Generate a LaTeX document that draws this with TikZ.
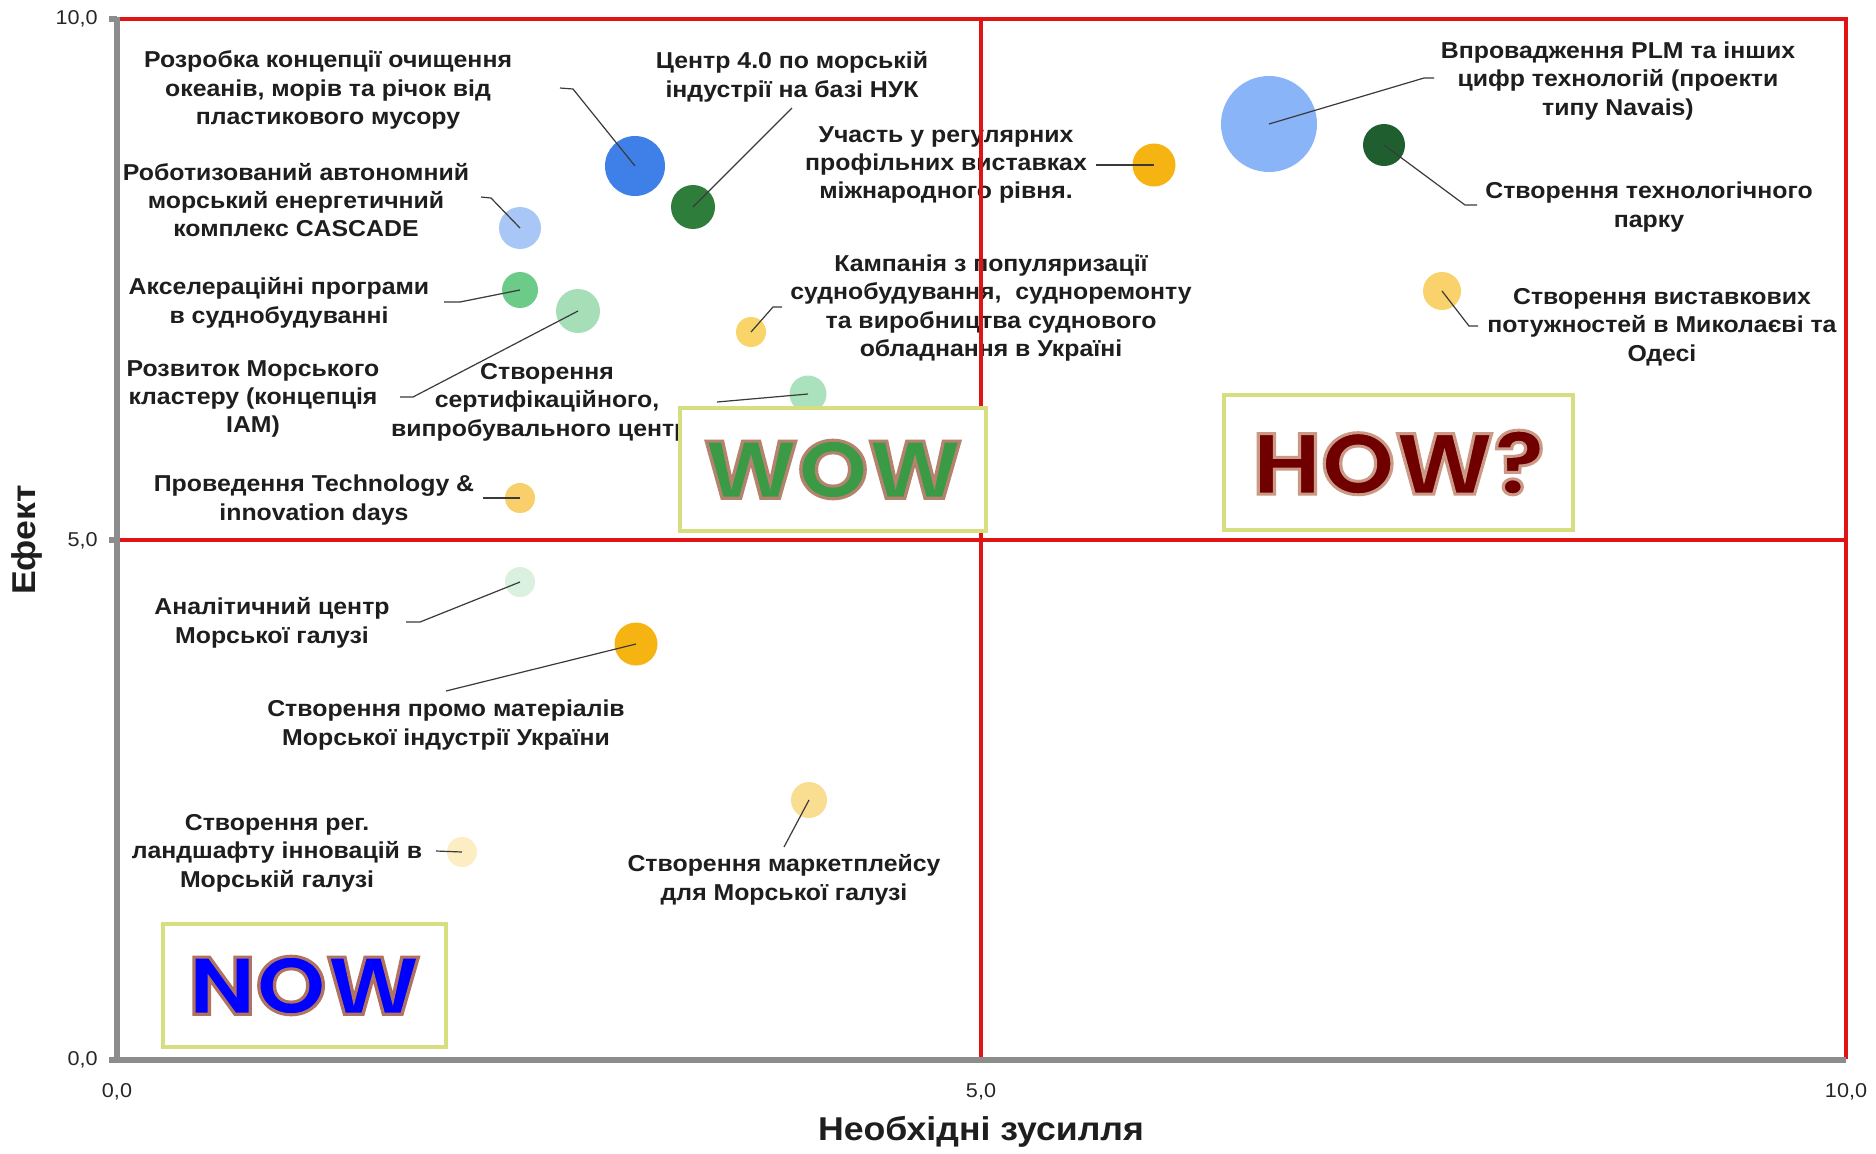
\documentclass[tikz,border=0pt]{standalone}
\usepackage{fontspec}
\usepackage{graphicx}
\setmainfont{Liberation Sans}[FakeStretch=1.08]
\newfontfamily\bigfont{Poppins}
\newcommand\outtext[3]{\special{pdf:literal direct #1 RG #2 w 2 Tr}#3\special{pdf:literal direct 0 Tr}}
\definecolor{quadred}{HTML}{E01414}
\definecolor{axgray}{HTML}{8C8C8C}
\definecolor{boxcol}{HTML}{D6DE80}
\definecolor{leadcol}{HTML}{3A3A3A}
\definecolor{labcol}{HTML}{1E1E1E}
\definecolor{cA}{HTML}{3F80E8}
\definecolor{cB}{HTML}{2E7D3A}
\definecolor{cC}{HTML}{A8C7F7}
\definecolor{cD}{HTML}{6CCB88}
\definecolor{cE}{HTML}{A6DFB7}
\definecolor{cF}{HTML}{F9D468}
\definecolor{cG}{HTML}{A9E2BC}
\definecolor{cH}{HTML}{F8CF6A}
\definecolor{cI}{HTML}{D9F1DE}
\definecolor{cJ}{HTML}{F5B411}
\definecolor{cK}{HTML}{F9DE92}
\definecolor{cL}{HTML}{FCEDC3}
\definecolor{cM}{HTML}{F5B412}
\definecolor{cN}{HTML}{8AB4F8}
\definecolor{cO}{HTML}{1F5E2E}
\definecolor{cP}{HTML}{F9D26C}
\definecolor{wowfill}{HTML}{3A9A46}
\definecolor{howfill}{HTML}{700000}
\definecolor{nowfill}{HTML}{0000FF}
\begin{document}
\begin{tikzpicture}[x=0.5pt,y=-0.5pt,
  lab/.style={align=center, font=\bfseries\fontsize{11.5}{14.2}\selectfont, inner sep=0pt, text=labcol},
  lead/.style={draw=leadcol, line width=0.6pt},
  bub/.style 2 args={circle, inner sep=0pt, minimum size=#1pt, fill=#2, draw=none},
  quad/.style={draw=quadred, line width=2pt},
  axisline/.style={draw=axgray, line width=3pt},
  ticklab/.style={font=\fontsize{10}{12}\selectfont, inner sep=0pt, text=black!85},
  axtitle/.style={font=\bfseries\fontsize{16.5}{19}\selectfont, inner sep=0pt, text=labcol},
  bigbox/.style={draw=boxcol, line width=2pt, fill=white, inner sep=0pt}]
\useasboundingbox (0,0) rectangle (1876,1153);
\fill[white] (0,0) rectangle (1876,1153);

% bubbles
\node[bub={30}{cA}] (b1) at (635,166) {};
\node[bub={22}{cB}] (b2) at (693,207) {};
\node[bub={21}{cC}] (b3) at (520,228) {};
\node[bub={18}{cD}] (b4) at (520,290) {};
\node[bub={22}{cE}] (b5) at (578,311) {};
\node[bub={15}{cF}] (b6) at (751,332) {};
\node[bub={18.5}{cG}] (b7) at (808,394) {};
\node[bub={15}{cH}] (b8) at (520,498) {};
\node[bub={15}{cI}] (b9) at (520,582) {};
\node[bub={21.5}{cJ}] (b10) at (636,644) {};
\node[bub={18}{cK}] (b11) at (809,800) {};
\node[bub={15}{cL}] (b12) at (462,852) {};
\node[bub={21.5}{cM}] (b13) at (1154,165) {};
\node[bub={48}{cN}] (b14) at (1269,124) {};
\node[bub={21}{cO}] (b15) at (1384,145) {};
\node[bub={19}{cP}] (b16) at (1442,291) {};

% leader points
\coordinate (kA1) at (560,88);   \coordinate (kA2) at (573,89);
\coordinate (kB1) at (792,108);
\coordinate (kC1) at (1096,165);
\coordinate (kD1) at (782,307);  \coordinate (kD2) at (773,307);
\coordinate (kE1) at (481,197);  \coordinate (kE2) at (491,198);
\coordinate (kF1) at (444,302);  \coordinate (kF2) at (460,302);
\coordinate (kG1) at (400,397);  \coordinate (kG2) at (413,397);
\coordinate (kH1) at (717,402);
\coordinate (kI1) at (483,498);
\coordinate (kJ1) at (406,622);  \coordinate (kJ2) at (420,622);
\coordinate (kK1) at (446,691);
\coordinate (kL1) at (436,851);
\coordinate (kM1) at (784,847);
\coordinate (kN1) at (1434,78);  \coordinate (kN2) at (1424,78);
\coordinate (kO1) at (1477,205); \coordinate (kO2) at (1465,205);
\coordinate (kP1) at (1478,326); \coordinate (kP2) at (1469,326);

\draw[lead] (kA1) -- (kA2) -- (b1.center);
\draw[lead] (kB1) -- (b2.center);
\draw[lead] (kC1) -- (b13.center);
\draw[lead] (kD1) -- (kD2) -- (b6.center);
\draw[lead] (kE1) -- (kE2) -- (b3.center);
\draw[lead] (kF1) -- (kF2) -- (b4.center);
\draw[lead] (kG1) -- (kG2) -- (b5.center);
\draw[lead] (kH1) -- (b7.center);
\draw[lead] (kI1) -- (b8.center);
\draw[lead] (kJ1) -- (kJ2) -- (b9.center);
\draw[lead] (kK1) -- (b10.center);
\draw[lead] (kL1) -- (b12.center);
\draw[lead] (kM1) -- (b11.center);
\draw[lead] (kN1) -- (kN2) -- (b14.center);
\draw[lead] (kO1) -- (kO2) -- (b15.center);
\draw[lead] (kP1) -- (kP2) -- (b16.center);

% labels
\node[lab] (lA) at (328,90) {Розробка концепції очищення\\океанів, морів та річок від\\пластикового мусору};
\node[lab] (lB) at (792,77) {Центр 4.0 по морській\\індустрії на базі НУК};
\node[lab] (lC) at (946,165) {Участь у регулярних\\профільних виставках\\міжнародного рівня.};
\node[lab] (lD) at (991,308) {Кампанія з популяризації\\суднобудування,\ \ судноремонту\\та виробництва суднового\\обладнання в Україні};
\node[lab] (lE) at (296,200) {Роботизований автономний\\морський енергетичний\\комплекс CASCADE};
\node[lab] (lF) at (279,303) {Акселераційні програми\\в суднобудуванні};
\node[lab] (lG) at (253,399) {Розвиток Морського\\кластеру (концепція\\IAM)};
\node[lab] (lH) at (547,402) {Створення\\сертифікаційного,\\випробувального центру};
\node[lab] (lI) at (314,500) {Проведення Technology \&\\innovation days};
\node[lab] (lJ) at (272,623) {Аналітичний центр\\Морської галузі};
\node[lab] (lK) at (446,725) {Створення промо матеріалів\\Морської індустрії України};
\node[lab] (lL) at (277,853) {Створення рег.\\ландшафту інновацій в\\Морській галузі};
\node[lab] (lM) at (784,880) {Створення маркетплейсу\\для Морської галузі};
\node[lab] (lN) at (1618,81) {Впровадження PLM та інших\\цифр технологій (проекти\\типу Navais)};
\node[lab] (lO) at (1649,207) {Створення технологічного\\парку};
\node[lab] (lP) at (1662,327) {Створення виставкових\\потужностей в Миколаєві та\\Одесі};

% quadrant lines
\draw[quad] (117,19) -- (1846,19) -- (1846,1059);
\draw[quad] (117,540) -- (1846,540);
\draw[quad] (981,19) -- (981,1059);

% axes
\draw[axisline] (117,17) -- (117,1060) -- (1846,1060);
\draw[axisline] (109,19) -- (117,19);
\draw[axisline] (109,540) -- (117,540);
\draw[axisline] (109,1060) -- (117,1060);

% quadrant boxes
\node[bigbox, minimum width=153pt, minimum height=61.5pt] (wow) at (833,469.5)
  {\color{wowfill}\resizebox{129pt}{29pt}{\bigfont\bfseries\fontsize{40}{40}\selectfont\outtext{0.71 0.51 0.43}{1.5}{WOW}}};
\node[bigbox, minimum width=174.5pt, minimum height=67.5pt] (how) at (1398.5,462.5)
  {\color{howfill}\resizebox{146pt}{32pt}{\bigfont\bfseries\fontsize{44}{44}\selectfont\outtext{0.80 0.60 0.53}{1.5}{HOW?}}};
\node[bigbox, minimum width=141.5pt, minimum height=61.5pt] (now) at (304.5,985.5)
  {\color{nowfill}\resizebox{116pt}{29pt}{\bigfont\bfseries\fontsize{40}{40}\selectfont\outtext{0.69 0.45 0.38}{1.5}{NOW}}};

% tick labels
\node[ticklab, anchor=east] (t10) at (98,19) {10,0};
\node[ticklab, anchor=east] (t5) at (98,541) {5,0};
\node[ticklab, anchor=east] (t0) at (98,1060) {0,0};
\node[ticklab] (x0) at (117,1092) {0,0};
\node[ticklab] (x5) at (981,1092) {5,0};
\node[ticklab] (x10) at (1846,1092) {10,0};

% axis titles
\node[axtitle] (xt) at (981,1132) {Необхідні зусилля};
\node[axtitle, rotate=90] (yt) at (27,540) {Ефект};
\end{tikzpicture}
\end{document}
